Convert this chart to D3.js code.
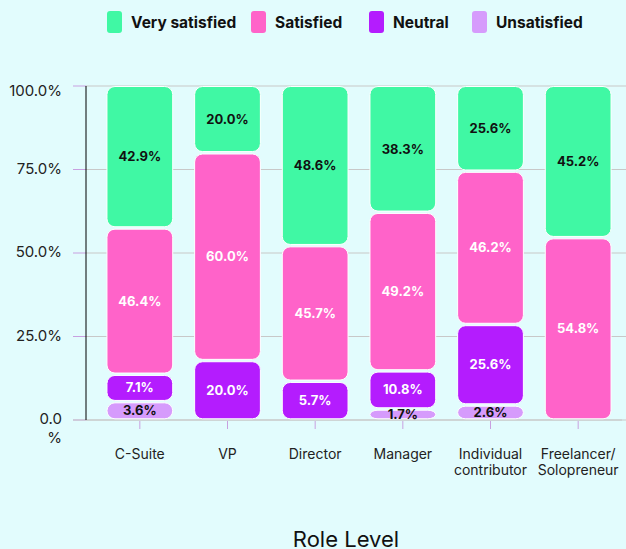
<!DOCTYPE html>
<html>
<head>
  <meta charset="utf-8">
  <script src="https://d3js.org/d3.v7.min.js"></script>
  <style>
    body { margin: 0; background: #e2fcfd; font-family: Inter, "Noto Sans", sans-serif; }
    svg { display: block; }
  </style>
</head>
<body>
  <div id="chart"></div>
  <script>
    // data
    var roles = ["C-Suite", "VP", "Director", "Manager", "Individual contributor", "Freelancer/ Solopreneur"];
    var roleLines = [["C-Suite"], ["VP"], ["Director"], ["Manager"], ["Individual", "contributor"], ["Freelancer/", "Solopreneur"]];
    var levels = ["Very satisfied", "Satisfied", "Neutral", "Unsatisfied"];

    // printed labels (%)
    var verySatisfied = [42.9, 20.0, 48.6, 38.3, 25.6, 45.2];
    var satisfied = [46.4, 60.0, 45.7, 49.2, 46.2, 54.8];
    var neutral = [7.1, 20.0, 5.7, 10.8, 25.6, 0];
    var unsatisfied = [3.6, 0, 0, 1.7, 2.6, 0];

    // segment heights as drawn in the picture (% of axis)
    var barVerySatisfied = [42.5, 20.0, 47.8, 37.8, 25.5, 45.4];
    var barSatisfied = [43.8, 62.2, 40.6, 47.5, 45.9, 54.6];
    var barNeutral = [8.2, 17.8, 11.6, 11.4, 24.1, 0];
    var barUnsatisfied = [5.5, 0, 0, 3.3, 4.5, 0];

    var yTicks = [0, 25, 50, 75, 100];

    var colors = {
      "Very satisfied": "#40f8a4",
      "Satisfied": "#ff63c9",
      "Neutral": "#b41cfe",
      "Unsatisfied": "#d69bfc"
    };
    var labelColors = {
      "Very satisfied": "#111",
      "Satisfied": "#fff",
      "Neutral": "#fff",
      "Unsatisfied": "#111"
    };

    var W = 626, H = 549;

    var svg = d3.select("#chart").append("svg")
      .attr("width", W).attr("height", H);

    var x = d3.scaleBand().domain(roles).range([96, 622]).paddingInner(0.25).paddingOuter(0.125);
    var y = d3.scaleLinear().domain([0, 100]).range([420, 86]);

    var labelOf = {
      "Very satisfied": verySatisfied,
      "Satisfied": satisfied,
      "Neutral": neutral,
      "Unsatisfied": unsatisfied
    };
    var table = roles.map(function(r, i) {
      return {
        role: r,
        idx: i,
        "Very satisfied": barVerySatisfied[i],
        "Satisfied": barSatisfied[i],
        "Neutral": barNeutral[i],
        "Unsatisfied": barUnsatisfied[i]
      };
    });
    var series = d3.stack().keys(levels.slice().reverse())(table);

    // gridlines
    svg.append("g").selectAll("line")
      .data(yTicks).enter().append("line")
      .attr("x1", 86).attr("x2", W)
      .attr("y1", function(d) { return y(d); })
      .attr("y2", function(d) { return y(d); })
      .attr("stroke", "#c8c8c8").attr("stroke-width", 1.2);

    // y tick marks
    svg.append("g").selectAll("line")
      .data(yTicks).enter().append("line")
      .attr("x1", 73).attr("x2", 86)
      .attr("y1", function(d) { return y(d); })
      .attr("y2", function(d) { return y(d); })
      .attr("stroke", "#c8a0e0").attr("stroke-width", 1);

    // y tick labels (top one sits a bit lower, bottom one wraps)
    svg.append("g").selectAll("text")
      .data(yTicks).enter().append("text")
      .attr("x", 62)
      .attr("y", function(d) { return y(d) + (d === 100 ? 10 : 4); })
      .attr("text-anchor", "end")
      .attr("font-size", 15)
      .attr("fill", "#222")
      .each(function(d) {
        var t = d3.select(this);
        if (d === 0) {
          t.append("tspan").attr("x", 62).text("0.0");
          t.append("tspan").attr("x", 62).attr("dy", 19).text("%");
        } else {
          t.text(d.toFixed(1) + "%");
        }
      });

    // x axis line + ticks
    svg.append("line")
      .attr("x1", 73).attr("x2", 622)
      .attr("y1", y(0)).attr("y2", y(0))
      .attr("stroke", "#c8c8c8").attr("stroke-width", 1.2);
    svg.append("g").selectAll("line")
      .data(roles).enter().append("line")
      .attr("x1", function(d) { return x(d) + x.bandwidth() / 2; })
      .attr("x2", function(d) { return x(d) + x.bandwidth() / 2; })
      .attr("y1", y(0) + 1).attr("y2", y(0) + 9)
      .attr("stroke", "#c8a0e0").attr("stroke-width", 1);

    // y axis line
    svg.append("line")
      .attr("x1", 86).attr("x2", 86)
      .attr("y1", y(100)).attr("y2", y(0))
      .attr("stroke", "#000").attr("stroke-width", 1);

    // x labels
    svg.append("g").selectAll("text")
      .data(roles).enter().append("text")
      .attr("text-anchor", "middle")
      .attr("font-size", 14)
      .attr("fill", "#222")
      .each(function(d, i) {
        var t = d3.select(this);
        var cx = x(d) + x.bandwidth() / 2;
        roleLines[i].forEach(function(line, j) {
          t.append("tspan").attr("x", cx).attr("y", 459 + j * 16).text(line);
        });
      });

    // bars
    var groups = svg.append("g").selectAll("g")
      .data(series).enter().append("g");

    groups.each(function(s) {
      var key = s.key;
      var g = d3.select(this);
      var segs = s.filter(function(d) { return d[1] - d[0] > 0; });
      g.selectAll("rect").data(segs).enter().append("rect")
        .attr("x", function(d) { return x(d.data.role); })
        .attr("width", x.bandwidth())
        .attr("y", function(d) { return y(d[1]) + (d[1] >= 99.9 ? 0.5 : 1.2); })
        .attr("height", function(d) {
          var top = y(d[1]) + (d[1] >= 99.9 ? 0.5 : 1.2);
          return Math.max(y(d[0]) - 1.2 - top, 1);
        })
        .attr("rx", 8).attr("ry", 8)
        .attr("fill", colors[key])
        .attr("stroke", "#fff").attr("stroke-width", 1);
      g.selectAll("text").data(segs).enter().append("text")
        .attr("x", function(d) { return x(d.data.role) + x.bandwidth() / 2; })
        .attr("y", function(d) { return (y(d[0]) + y(d[1])) / 2 + 4.5; })
        .attr("text-anchor", "middle")
        .attr("font-size", 13)
        .attr("font-weight", 700)
        .attr("fill", labelColors[key])
        .text(function(d) { return labelOf[key][d.data.idx].toFixed(1) + "%"; });
    });

    // legend
    var legendX = [107, 251, 369, 472];
    var leg = svg.append("g").selectAll("g")
      .data(levels).enter().append("g")
      .attr("transform", function(d, i) { return "translate(" + legendX[i] + ",11)"; });
    leg.append("rect")
      .attr("width", 15).attr("height", 22).attr("rx", 3)
      .attr("fill", function(d) { return colors[d]; });
    leg.append("text")
      .attr("x", 24).attr("y", 17)
      .attr("font-size", 15.5).attr("font-weight", 700)
      .attr("fill", "#111")
      .text(function(d) { return d; });

    // axis title (cut by the bottom edge, as in the reference)
    svg.append("text")
      .attr("x", 346).attr("y", 547)
      .attr("text-anchor", "middle")
      .attr("font-size", 22)
      .attr("fill", "#111")
      .text("Role Level");
  </script>
</body>
</html>
